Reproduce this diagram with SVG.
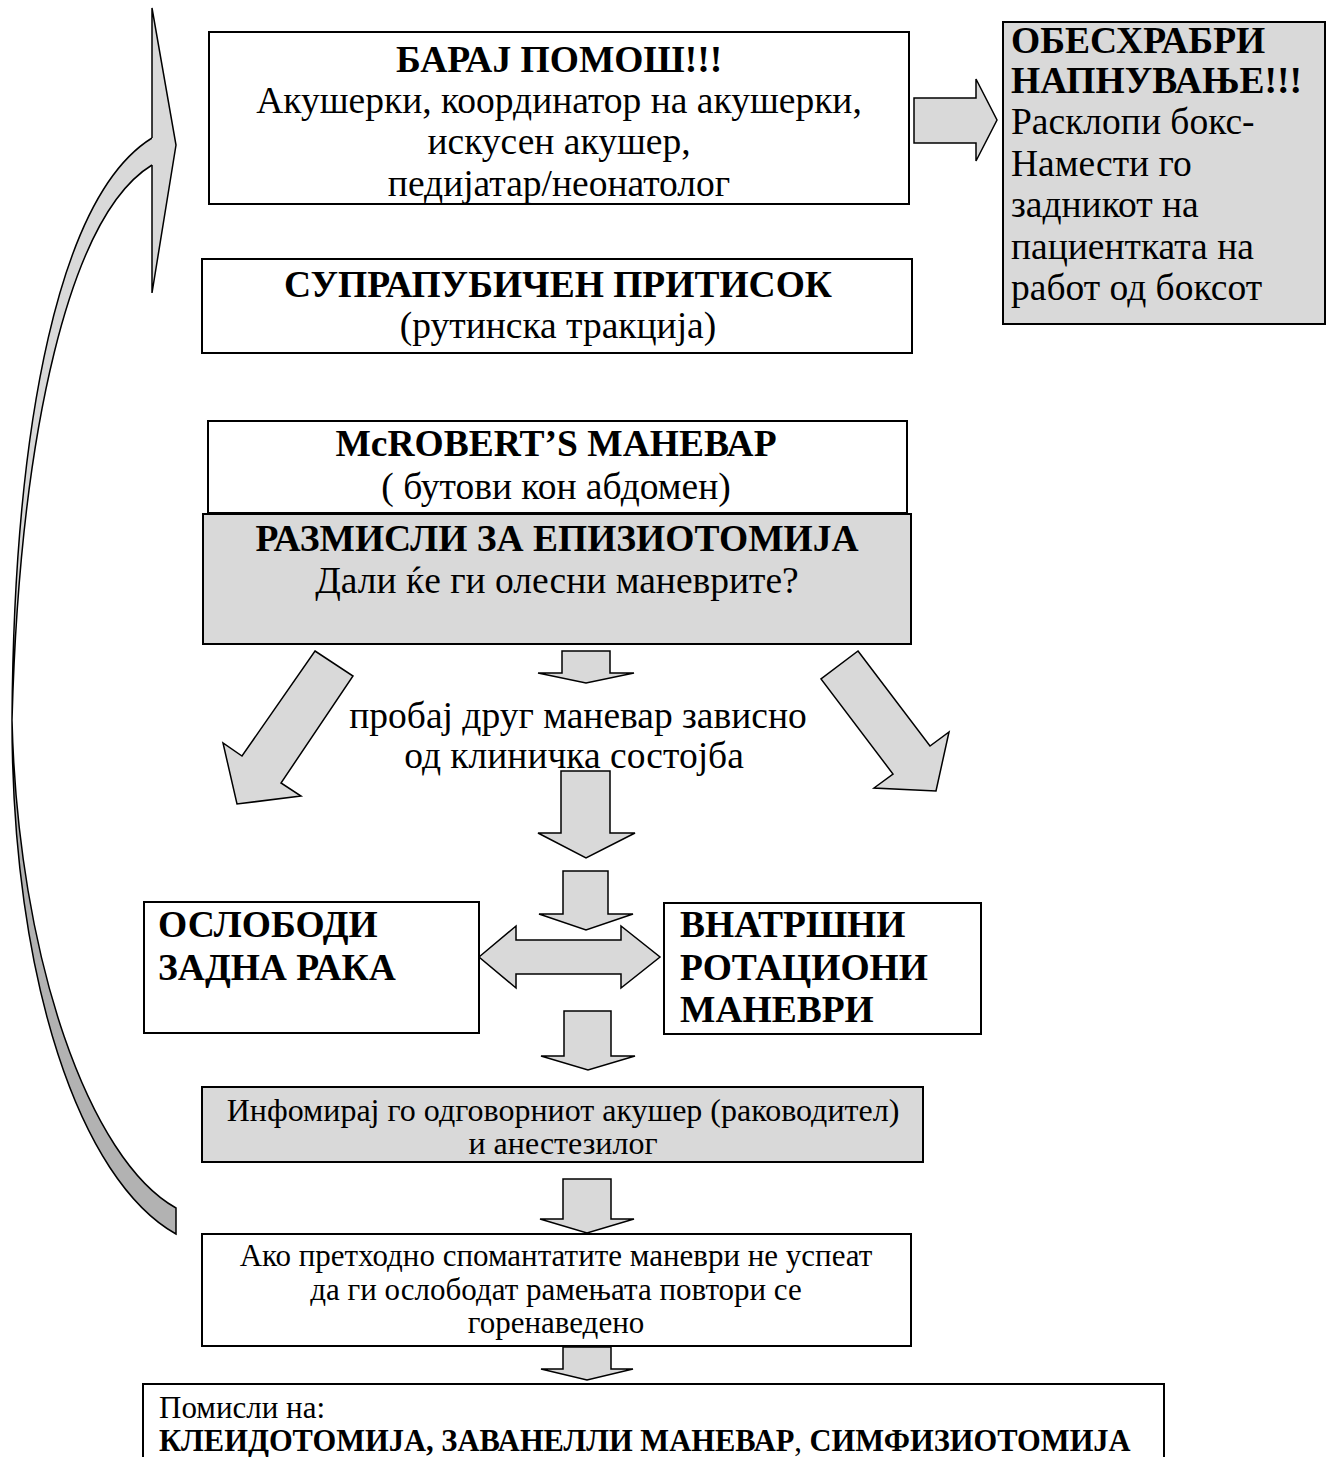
<svg xmlns="http://www.w3.org/2000/svg" width="1326" height="1457" viewBox="0 0 1326 1457">
<style>
text{font-family:"Liberation Serif","Times New Roman",serif;fill:#000}
.b{font-weight:bold}
.f36{font-size:37.5px}
.f32{font-size:32px}
.f31{font-size:31px}
.f30{font-size:30.5px}
.c{text-anchor:middle}
.box{fill:#fff;stroke:#000;stroke-width:2}
.gbox{fill:#d9d9d9;stroke:#000;stroke-width:2}
.arr{fill:#d9d9d9;stroke:#000;stroke-width:1.5;stroke-linejoin:miter}
</style>
<rect width="1326" height="1457" fill="#fff"/>

<g id="connectors">
  <g id="loop-arrow">
    <path d="M152,138 C60,195 14,420 12,720 C20,430 70,215 152,165 Z" fill="#d9d9d9" stroke="none"/>
    <path d="M152,138 C60,195 14,420 12,720 C20,430 70,215 152,165" fill="none" stroke="#000" stroke-width="1.5"/>
    <path d="M176,1234 C80,1180 12,980 12,720 C18,960 90,1160 176,1208 Z" fill="#b2b2b2" stroke="#000" stroke-width="1.5"/>
    <path d="M152,138 L152,8 L176,145 L152,293 L152,165" fill="#d9d9d9" stroke="#000" stroke-width="1.5"/>
  </g>
  <polygon class="arr" points="914,98 976,98 976,79 997,120 976,161 976,143 914,143"/>
  <polygon class="arr" points="562,651 610,651 610,673 634,673 586,683 538,673 562,673"/>
  <polygon class="arr" points="315,651 353,676 281,783 301,796 237,804 223,743 242,756"/>
  <polygon class="arr" points="858,651 930,746 949,732 936,791 874,788 893,774 821,679"/>
  <polygon class="arr" points="561,771 610,771 610,833 635,833 586,858 538,833 561,833"/>
  <polygon class="arr" points="563,871 608,871 608,914 633,914 586,930 539,914 563,914"/>
  <polygon class="arr" points="479,957 516,926 516,940 621,940 621,926 660,957 621,988 621,974 516,974 516,988"/>
  <polygon class="arr" points="564,1011 611,1011 611,1056 635,1056 588,1070 541,1056 564,1056"/>
  <polygon class="arr" points="563,1179 611,1179 611,1219 634,1219 587,1233 540,1219 563,1219"/>
  <polygon class="arr" points="563,1347 611,1347 611,1369 633,1369 587,1380 541,1369 563,1369"/>
</g>

<g id="n-help">
  <rect class="box" x="209" y="32" width="700" height="172"/>
  <text class="f36 b c" x="559" y="72">БАРАЈ ПОМОШ!!!</text>
  <text class="f36 c" x="559" y="113">Акушерки, координатор на акушерки,</text>
  <text class="f36 c" x="559" y="154">искусен акушер,</text>
  <text class="f36 c" x="559" y="196">педијатар/неонатолог</text>
</g>

<g id="n-discourage">
  <rect class="gbox" x="1003" y="22" width="322" height="302"/>
  <text class="f36 b" x="1011" y="53">ОБЕСХРАБРИ</text>
  <text class="f36 b" x="1011" y="93">НАПНУВАЊЕ!!!</text>
  <text class="f36" x="1011" y="134">Расклопи бокс-</text>
  <text class="f36" x="1011" y="176">Намести го</text>
  <text class="f36" x="1011" y="217">задникот на</text>
  <text class="f36" x="1011" y="259">пациентката на</text>
  <text class="f36" x="1011" y="300">работ од боксот</text>
</g>

<g id="n-suprapubic">
  <rect class="box" x="202" y="259" width="710" height="94"/>
  <text class="f36 b c" x="558" y="297">СУПРАПУБИЧЕН ПРИТИСОК</text>
  <text class="f36 c" x="558" y="338">(рутинска тракција)</text>
</g>

<g id="n-mcrobert">
  <rect class="box" x="208" y="421" width="699" height="92"/>
  <text class="f36 b c" x="556" y="456">McROBERT’S МАНЕВАР</text>
  <text class="f36 c" x="556" y="499">( бутови кон абдомен)</text>
</g>

<g id="n-episiotomy">
  <rect class="gbox" x="203" y="514" width="708" height="130"/>
  <text class="f36 b c" x="557" y="551">РАЗМИСЛИ ЗА ЕПИЗИОТОМИЈА</text>
  <text class="f36 c" x="557" y="593">Дали ќе ги олесни маневрите?</text>
</g>

<g id="n-try-other">
  <text class="f36 c" x="578" y="728">пробај друг маневар зависно</text>
  <text class="f36 c" x="574" y="768">од клиничка состојба</text>
</g>

<g id="n-posterior-arm">
  <rect class="box" x="144" y="902" width="335" height="131"/>
  <text class="f36 b" x="158" y="937">ОСЛОБОДИ</text>
  <text class="f36 b" x="158" y="980">ЗАДНА РАКА</text>
</g>

<g id="n-internal-rotation">
  <rect class="box" x="664" y="903" width="317" height="131"/>
  <text class="f36 b" x="680" y="937">ВНАТРШНИ</text>
  <text class="f36 b" x="680" y="980">РОТАЦИОНИ</text>
  <text class="f36 b" x="680" y="1022">МАНЕВРИ</text>
</g>

<g id="n-inform">
  <rect class="gbox" x="202" y="1087" width="721" height="75"/>
  <text class="f32 c" x="563" y="1121">Инфомирај го одговорниот акушер (раководител)</text>
  <text class="f32 c" x="563" y="1154">и анестезилог</text>
</g>

<g id="n-repeat">
  <rect class="box" x="202" y="1234" width="709" height="112"/>
  <text class="f31 c" x="556" y="1266">Ако претходно спомантатите маневри не успеат</text>
  <text class="f31 c" x="556" y="1300">да ги ослободат рамењата повтори се</text>
  <text class="f31 c" x="556" y="1333">горенаведено</text>
</g>

<g id="n-consider">
  <path d="M143,1460 L143,1384 L1164,1384 L1164,1460" fill="#fff" stroke="#000" stroke-width="2"/>
  <text class="f31" x="159" y="1418">Помисли на:</text>
  <text class="f30" x="159" y="1451"><tspan class="b">КЛЕИДОТОМИЈА, ЗАВАНЕЛЛИ МАНЕВАР</tspan>, <tspan class="b">СИМФИЗИОТОМИЈА</tspan></text>
</g>
</svg>
